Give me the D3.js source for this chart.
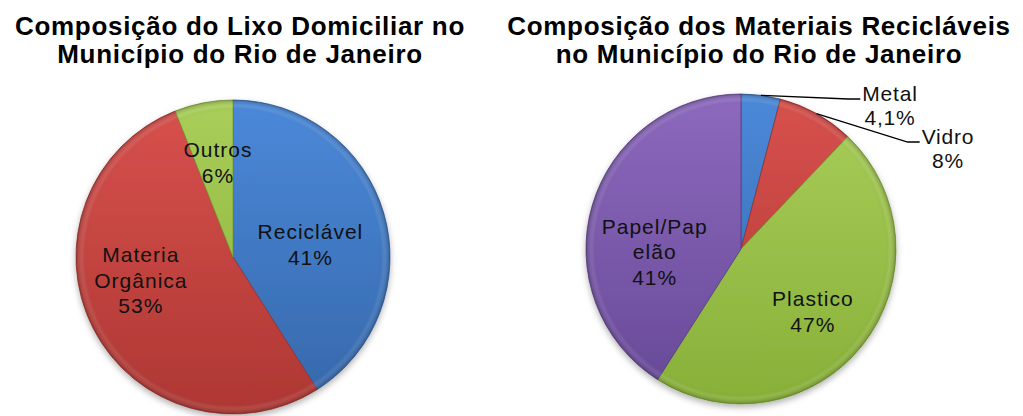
<!DOCTYPE html>
<html>
<head>
<meta charset="utf-8">
<script src="https://cdn.jsdelivr.net/npm/d3@7"></script>
<style>
  body { margin: 0; background: #fff; }
  svg { display: block; }
</style>
</head>
<body>
<div id="chart"></div>
<script>
// dados
const lixoCategorias = ['Reciclável', 'Materia Orgânica', 'Outros'];
const lixoValores = [41, 53, 6];
const lixoRotulos = [['Reciclável', '41%'], ['Materia', 'Orgânica', '53%'], ['Outros', '6%']];

const recCategorias = ['Metal', 'Vidro', 'Plastico', 'Papel/Papelão'];
const recValores = [4.1, 8, 47, 41];
const recRotulos = [['Metal', '4,1%'], ['Vidro', '8%'], ['Plastico', '47%'], ['Papel/Pap', 'elão', '41%']];

const titulo1 = ['Composição do Lixo Domiciliar no', 'Município do Rio de Janeiro'];
const titulo2 = ['Composição dos Materiais Recicláveis', 'no Município do Rio de Janeiro'];

// ajustes de posição dos rótulos (como o Excel deixou), em px
const lixoAjuste = [[-10, 13], [-11, -17], [2, -5]];
const recAjuste = [[0, 0], [0, 0], [1, 8], [0, 29]];

const width = 1023;
const height = 416;

const svg = d3.select('#chart')
  .append('svg')
  .attr('width', width)
  .attr('height', height);

const defs = svg.append('defs');

defs.append('filter')
  .attr('id', 'sombra')
  .attr('x', '-10%').attr('y', '-10%')
  .attr('width', '120%').attr('height', '125%')
  .append('feDropShadow')
  .attr('dx', 0).attr('dy', 3)
  .attr('stdDeviation', 3)
  .attr('flood-color', '#000')
  .attr('flood-opacity', 0.3);

// escurecimento na borda (efeito bisel)
const bisel = defs.append('radialGradient')
  .attr('id', 'bisel')
  .attr('cx', '50%').attr('cy', '50%').attr('r', '50%');
bisel.append('stop').attr('offset', '0%').attr('stop-color', '#000').attr('stop-opacity', 0);
bisel.append('stop').attr('offset', '93%').attr('stop-color', '#000').attr('stop-opacity', 0);
bisel.append('stop').attr('offset', '96%').attr('stop-color', '#fff').attr('stop-opacity', 0.08);
bisel.append('stop').attr('offset', '100%').attr('stop-color', '#000').attr('stop-opacity', 0.22);

// cores (topo, base) no estilo Excel 2007
const cores = {
  azul: ['#4b89d9', '#3567aa'],
  vermelho: ['#d8514d', '#ae3733'],
  verde: ['#a9ce5a', '#88b038'],
  roxo: ['#8d69be', '#664896']
};

function gradiente(id, c, cy, r) {
  const g = defs.append('linearGradient')
    .attr('id', id)
    .attr('gradientUnits', 'userSpaceOnUse')
    .attr('x1', 0).attr('x2', 0)
    .attr('y1', cy - r).attr('y2', cy + r);
  g.append('stop').attr('offset', '0%').attr('stop-color', c[0]);
  g.append('stop').attr('offset', '100%').attr('stop-color', c[1]);
}

function titulo(linhas, cx) {
  svg.append('text')
    .attr('x', cx)
    .attr('y', 35)
    .attr('text-anchor', 'middle')
    .style('font-family', '"Liberation Sans", Arial, sans-serif')
    .style('font-weight', 'bold')
    .style('font-size', '26px')
    .style('letter-spacing', '0.7px')
    .attr('fill', '#000')
    .selectAll('tspan')
    .data(linhas)
    .join('tspan')
      .attr('x', cx)
      .attr('dy', (d, i) => i === 0 ? 0 : 28)
      .text(d => d);
}

function pizza(opts) {
  const { cx, cy, r, valores, rotulos, ajuste, paleta, prefixo, externos } = opts;

  // gradientes em coordenadas do grupo (centro em 0,0)
  paleta.forEach((c, i) => gradiente(prefixo + i, c, 0, r));

  const pie = d3.pie().sort(null).value(d => d);
  const arcs = pie(valores);

  const arc = d3.arc().innerRadius(0).outerRadius(r);
  const labelArc = d3.arc().innerRadius(r * 0.58).outerRadius(r * 0.58);
  const borda = d3.arc().innerRadius(r).outerRadius(r);

  const g = svg.append('g')
    .attr('transform', `translate(${cx},${cy})`);

  g.append('g')
    .attr('filter', 'url(#sombra)')
    .selectAll('path')
    .data(arcs)
    .join('path')
      .attr('d', arc)
      .attr('fill', (d, i) => `url(#${prefixo}${i})`)
      .attr('stroke', (d, i) => d3.color(paleta[i][1]).darker(0.4))
      .attr('stroke-width', 0.8);

  g.append('circle')
    .attr('r', r)
    .attr('fill', 'url(#bisel)')
    .attr('pointer-events', 'none');

  arcs.forEach((d, i) => {
    const linhas = rotulos[i];
    if (externos[i]) {
      // rótulo externo com linha de chamada
      const ext = externos[i];
      const t = g.append('text')
        .attr('text-anchor', 'middle')
        .style('font-family', '"Liberation Sans", Arial, sans-serif')
        .style('font-size', '21px')
        .style('letter-spacing', '0.8px')
        .attr('fill', '#111');
      t.selectAll('tspan')
        .data(linhas)
        .join('tspan')
          .attr('x', ext.x)
          .attr('y', (l, k) => ext.y + k * 23.5)
          .text(l => l);
      const w = t.select('tspan').node().getComputedTextLength();
      const p0 = borda.centroid(d);
      const xEnd = ext.x - w / 2 - 2;
      const yEnd = ext.y - 2;
      g.append('polyline')
        .attr('points', [p0, [xEnd - 12, yEnd], [xEnd, yEnd]].map(p => p.join(',')).join(' '))
        .attr('fill', 'none')
        .attr('stroke', '#000')
        .attr('stroke-width', 1.3);
      return;
    }
    const [lx, ly] = labelArc.centroid(d);
    const [ax, ay] = ajuste[i];
    const lh = linhas.length > 2 ? 25.5 : 26;
    const y0 = ly - (linhas.length - 1) * 13 + 7 + ay;
    g.append('text')
      .attr('text-anchor', 'middle')
      .style('font-family', '"Liberation Sans", Arial, sans-serif')
      .style('font-size', '21px')
      .style('letter-spacing', '1px')
      .attr('fill', '#111')
      .selectAll('tspan')
      .data(linhas)
      .join('tspan')
        .attr('x', lx + ax)
        .attr('y', (l, k) => y0 + k * lh)
        .text(l => l);
  });
}

titulo(titulo1, 240);
titulo(titulo2, 759);

pizza({
  cx: 233, cy: 257, r: 157,
  valores: lixoValores,
  rotulos: lixoRotulos,
  ajuste: lixoAjuste,
  paleta: [cores.azul, cores.vermelho, cores.verde],
  prefixo: 'gl',
  externos: {}
});

pizza({
  cx: 741, cy: 249, r: 155,
  valores: recValores,
  rotulos: recRotulos,
  ajuste: recAjuste,
  paleta: [cores.azul, cores.vermelho, cores.verde, cores.roxo],
  prefixo: 'gr',
  externos: { 0: { x: 149, y: -148 }, 1: { x: 207, y: -105 } }
});
</script>
</body>
</html>
